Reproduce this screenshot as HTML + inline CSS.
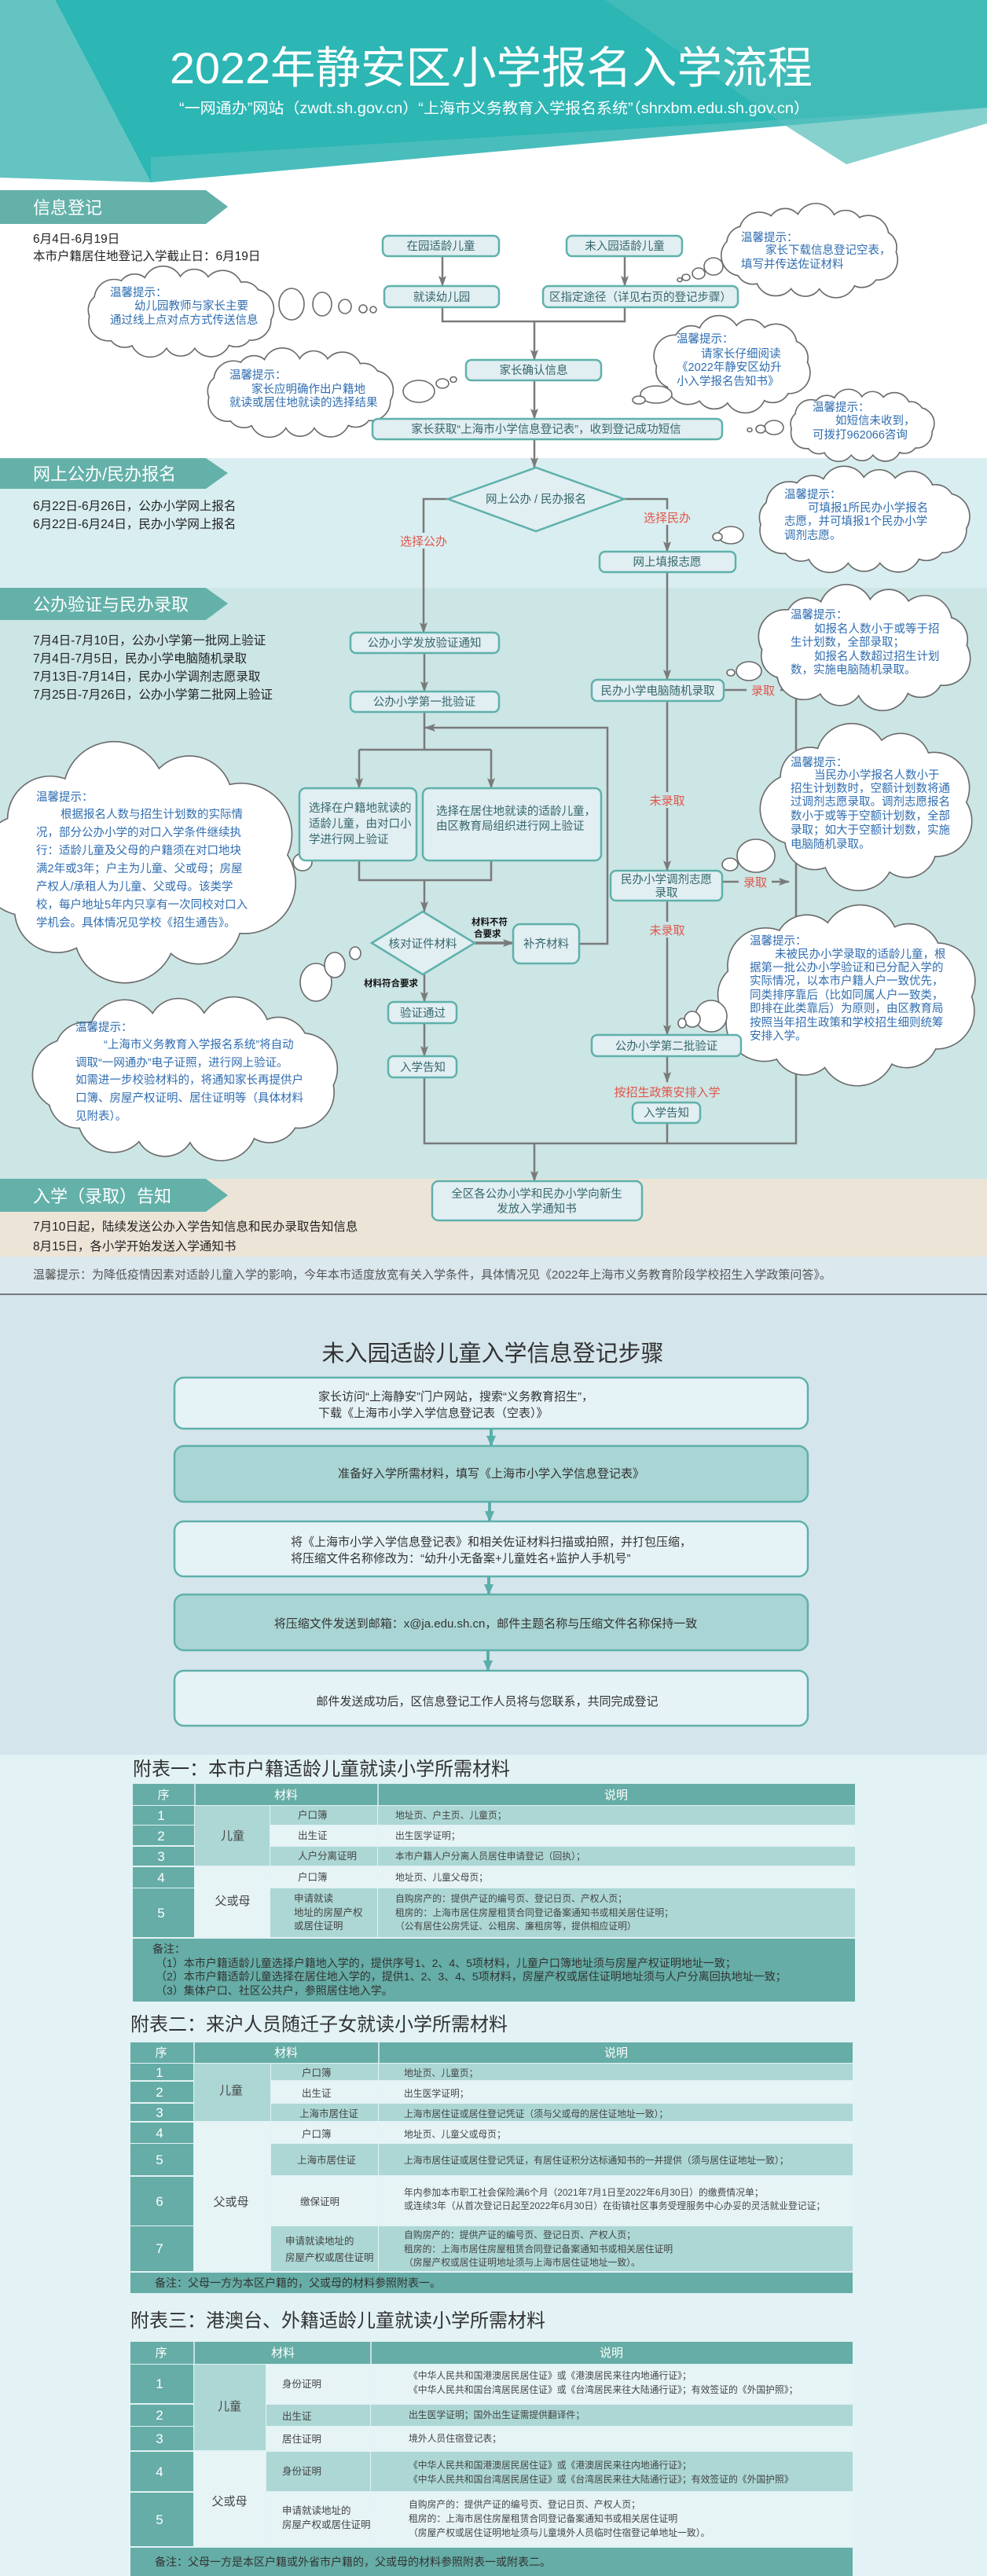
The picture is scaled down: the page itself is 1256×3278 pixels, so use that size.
<!DOCTYPE html>
<html><head><meta charset="utf-8">
<style>
html,body{margin:0;padding:0;background:#fff}
svg{display:block}
text{font-family:"Liberation Sans","Noto Sans CJK SC",sans-serif}
.bx{fill:#e1eef2;stroke:#5fb1ab;stroke-width:2.5}
.bt{font-size:14.5px;fill:#35676b;text-anchor:middle}
.ln{stroke:#7a7a7a;stroke-width:2.5;fill:none}
.rd{fill:#e2554a;font-size:15px;text-anchor:middle}
.ct{fill:#2f6db0;font-size:14.5px}
.dt{fill:#222;font-size:15.5px}
.bn{fill:#fff;font-size:22px}
.sm{fill:#111;font-size:11.5px;font-weight:bold}
.st{fill:#333;font-size:15px}
.tt{fill:#333;font-size:24px}
.th{fill:#fff;font-size:15px;text-anchor:middle}
.tn{fill:#fff;font-size:17px;text-anchor:middle}
.tc{fill:#444;font-size:15px;text-anchor:middle}
.td{fill:#444;font-size:11.8px}
.tm{fill:#444;font-size:12.5px}
.nt{fill:#333;font-size:14px}
.T{fill:#65ada6}.L{fill:#acd7d5}.W{fill:#e6f4f6}
.sb{stroke:#5fb1ab;stroke-width:2.5}
</style></head><body>
<svg id="s" width="1256" height="3278" viewBox="0 0 1256 3278" xmlns="http://www.w3.org/2000/svg">
<defs>
<marker id="a" viewBox="0 0 14 10" markerWidth="14" markerHeight="10" refX="13" refY="5" orient="auto" markerUnits="userSpaceOnUse"><path d="M0,0 L14,5 L0,10 L3,5z" fill="#7a7a7a"/></marker>
<marker id="g" viewBox="0 0 14 12" markerWidth="14" markerHeight="14" refX="13" refY="6" orient="auto" markerUnits="userSpaceOnUse"><path d="M0,0 L14,6 L0,12z" fill="#5aafaa"/></marker>
</defs>
<!-- header -->
<rect x="0" y="0" width="1256" height="583" fill="#fff"/>
<polygon points="70,0 1256,0 1256,137 192,232" fill="#2cb6b4"/>
<polygon points="0,0 70,0 192,232 0,226" fill="#63c4c1"/>
<polygon points="770,0 1256,0 1256,137 1000,160" fill="#40bbb8"/>
<polygon points="192,232 1000,160 1077,209 1256,157 1256,137 192,200" fill="#5ec2bf" opacity="0.6"/>
<polygon points="1000,160 1077,209 1256,157 1256,137" fill="#86d1cd"/>
<text x="216" y="106" font-size="56" fill="#fff" textLength="818" lengthAdjust="spacingAndGlyphs">2022年静安区小学报名入学流程</text>
<text x="228" y="144" font-size="19" fill="#fff" textLength="802" lengthAdjust="spacingAndGlyphs">“一网通办”网站（zwdt.sh.gov.cn）“上海市义务教育入学报名系统”（shrxbm.edu.sh.gov.cn）</text>

<!-- section backgrounds -->
<rect x="0" y="583" width="1256" height="165" fill="#d9eef0"/>
<rect x="0" y="748" width="1256" height="752" fill="#cce5e5"/>
<rect x="0" y="1500" width="1256" height="99" fill="#ece4d7"/>
<rect x="0" y="1599" width="1256" height="48" fill="#dbe8ee"/>
<rect x="0" y="1647" width="1256" height="586" fill="#d5e5ec"/>
<line x1="0" y1="1647" x2="1256" y2="1647" stroke="#555" stroke-width="1.5"/>
<rect x="0" y="2233" width="1256" height="1045" fill="#e2f2f5"/>

<!-- banners -->
<polygon points="0,242 262,242 290,263 262,285 0,285" fill="#64b1aa"/>
<text x="42" y="272" class="bn">信息登记</text>
<polygon points="0,583 262,583 290,602 262,622 0,622" fill="#64b1aa"/>
<text x="42" y="611" class="bn">网上公办/民办报名</text>
<polygon points="0,748 262,748 290,768 262,789 0,789" fill="#64b1aa"/>
<text x="42" y="777" class="bn">公办验证与民办录取</text>
<polygon points="0,1500 262,1500 290,1521 262,1542 0,1542" fill="#64b1aa"/>
<text x="42" y="1530" class="bn">入学（录取）告知</text>

<!-- date texts -->
<text x="42" y="309" class="dt">6月4日-6月19日</text>
<text x="42" y="331" class="dt">本市户籍居住地登记入学截止日：6月19日</text>
<text x="42" y="649" class="dt">6月22日-6月26日，公办小学网上报名</text>
<text x="42" y="672" class="dt">6月22日-6月24日，民办小学网上报名</text>
<text x="42" y="820" class="dt">7月4日-7月10日，公办小学第一批网上验证</text>
<text x="42" y="843" class="dt">7月4日-7月5日，民办小学电脑随机录取</text>
<text x="42" y="866" class="dt">7月13日-7月14日，民办小学调剂志愿录取</text>
<text x="42" y="889" class="dt">7月25日-7月26日，公办小学第二批网上验证</text>
<text x="42" y="1566" class="dt">7月10日起，陆续发送公办入学告知信息和民办录取告知信息</text>
<text x="42" y="1591" class="dt">8月15日，各小学开始发送入学通知书</text>
<text x="42" y="1627" font-size="15" fill="#555">温馨提示：为降低疫情因素对适龄儿童入学的影响，今年本市适度放宽有关入学条件，具体情况见《2022年上海市义务教育阶段学校招生入学政策问答》。</text>

<!-- connectors -->
<g class="ln">
<path d="M563,326 V364" marker-end="url(#a)"/>
<path d="M795,326 V364" marker-end="url(#a)"/>
<path d="M563,391 V409 H795 V391"/>
<path d="M680,409 V458" marker-end="url(#a)"/>
<path d="M680,484 V533" marker-end="url(#a)"/>
<path d="M680,559 V595" marker-end="url(#a)"/>
<path d="M570,635 H539 V805" marker-end="url(#a)"/>
<path d="M794,635 H849 V702" marker-end="url(#a)"/>
<path d="M540,831 V880" marker-end="url(#a)"/>
<path d="M540,906 V954"/>
<path d="M736,1201 H773 V926 H541" marker-end="url(#a)"/>
<path d="M457,954 H625"/>
<path d="M457,954 V1003" marker-end="url(#a)"/>
<path d="M625,954 V1003" marker-end="url(#a)"/>
<path d="M457,1095 V1120 H625 V1095"/>
<path d="M540,1120 V1160" marker-end="url(#a)"/>
<path d="M604,1200 H653" marker-end="url(#a)" stroke-width="3.5"/>
<path d="M540,1240 V1275" marker-end="url(#a)"/>
<path d="M540,1302 V1344" marker-end="url(#a)"/>
<path d="M540,1371 V1455 H1013 V878"/>
<path d="M849,1429 V1455"/>
<path d="M680,1455 V1503" marker-end="url(#a)"/>
<path d="M849,728 V865" marker-end="url(#a)"/>
<path d="M849,892 V1108" marker-end="url(#a)"/>
<path d="M921,878 H950"/>
<path d="M993,878 H1013" marker-end="url(#a)"/>
<path d="M919,1122 H940"/>
<path d="M982,1122 H1004" marker-end="url(#a)"/>
<path d="M849,1146 V1317" marker-end="url(#a)"/>
<path d="M849,1344 V1377" marker-end="url(#a)"/>
</g>

<!-- red labels -->
<rect x="505" y="678" width="68" height="20" fill="#d9eef0"/>
<text x="539" y="694" class="rd">选择公办</text>
<rect x="815" y="648" width="68" height="20" fill="#d9eef0"/>
<text x="849" y="664" class="rd">选择民办</text>
<text x="971" y="884" class="rd">录取</text>
<text x="961" y="1128" class="rd">录取</text>
<rect x="822" y="1008" width="54" height="20" fill="#cce5e5"/>
<text x="849" y="1024" class="rd">未录取</text>
<rect x="822" y="1173" width="54" height="20" fill="#cce5e5"/>
<text x="849" y="1189" class="rd">未录取</text>
<text x="849" y="1395" class="rd">按招生政策安排入学</text>
<text x="600" y="1177" class="sm">材料不符</text>
<text x="603" y="1192" class="sm">合要求</text>
<text x="463" y="1255" class="sm">材料符合要求</text>

<!-- clouds (drawn by script) -->
<g id="cl"></g>

<!-- boxes -->
<rect x="487" y="300" width="148" height="26" rx="7" class="bx"/><text x="561" y="318" class="bt">在园适龄儿童</text>
<rect x="721" y="300" width="147" height="26" rx="7" class="bx"/><text x="795" y="318" class="bt">未入园适龄儿童</text>
<rect x="489" y="364" width="146" height="27" rx="7" class="bx"/><text x="562" y="383" class="bt">就读幼儿园</text>
<rect x="691" y="364" width="248" height="27" rx="7" class="bx"/><text x="815" y="383" class="bt">区指定途径（详见右页的登记步骤）</text>
<rect x="593" y="458" width="172" height="26" rx="7" class="bx"/><text x="679" y="476" class="bt">家长确认信息</text>
<rect x="474" y="533" width="445" height="26" rx="7" class="bx"/><text x="695" y="551" class="bt">家长获取“上海市小学信息登记表”，收到登记成功短信</text>
<polygon points="570,635 682,595 794,635 682,676" fill="#e1eef2" stroke="#5fb1ab" stroke-width="2.5"/>
<text x="682" y="640" class="bt">网上公办 / 民办报名</text>
<rect x="763" y="702" width="173" height="26" rx="7" class="bx"/><text x="849" y="720" class="bt">网上填报志愿</text>
<rect x="446" y="805" width="189" height="26" rx="7" class="bx"/><text x="540" y="823" class="bt">公办小学发放验证通知</text>
<rect x="446" y="880" width="189" height="26" rx="7" class="bx"/><text x="540" y="898" class="bt">公办小学第一批验证</text>
<rect x="381" y="1003" width="149" height="92" rx="8" class="bx"/>
<text x="393" y="1033" class="bt" text-anchor="start" style="text-anchor:start">选择在户籍地就读的</text>
<text x="393" y="1053" class="bt" style="text-anchor:start">适龄儿童，由对口小</text>
<text x="393" y="1073" class="bt" style="text-anchor:start">学进行网上验证</text>
<rect x="538" y="1003" width="227" height="92" rx="8" class="bx"/>
<text x="555" y="1037" class="bt" style="text-anchor:start">选择在居住地就读的适龄儿童，</text>
<text x="555" y="1056" class="bt" style="text-anchor:start">由区教育局组织进行网上验证</text>
<polygon points="473,1200 538,1160 604,1200 538,1240" fill="#e1eef2" stroke="#5fb1ab" stroke-width="2.5"/>
<text x="538" y="1206" class="bt" font-size="15">核对证件材料</text>
<rect x="653" y="1176" width="84" height="50" rx="9" class="bx"/><text x="695" y="1206" class="bt">补齐材料</text>
<rect x="494" y="1275" width="87" height="27" rx="7" class="bx"/><text x="538" y="1294" class="bt">验证通过</text>
<rect x="494" y="1344" width="87" height="27" rx="7" class="bx"/><text x="538" y="1363" class="bt">入学告知</text>
<rect x="753" y="865" width="168" height="27" rx="7" class="bx"/><text x="837" y="884" class="bt">民办小学电脑随机录取</text>
<rect x="777" y="1108" width="142" height="38" rx="7" class="bx"/>
<text x="848" y="1124" class="bt">民办小学调剂志愿</text><text x="848" y="1141" class="bt">录取</text>
<rect x="753" y="1317" width="190" height="27" rx="7" class="bx"/><text x="848" y="1336" class="bt">公办小学第二批验证</text>
<rect x="805" y="1403" width="86" height="26" rx="7" class="bx"/><text x="848" y="1421" class="bt">入学告知</text>
<rect x="550" y="1503" width="267" height="50" rx="8" class="bx"/>
<text x="683" y="1524" class="bt">全区各公办小学和民办小学向新生</text>
<text x="683" y="1543" class="bt">发放入学通知书</text>

<!-- cloud texts -->
<text x="140" y="377" class="ct">温馨提示：</text>
<text x="171" y="394" class="ct">幼儿园教师与家长主要</text>
<text x="140" y="412" class="ct">通过线上点对点方式传送信息</text>
<text x="943" y="307" class="ct">温馨提示：</text>
<text x="974" y="323" class="ct">家长下载信息登记空表，</text>
<text x="943" y="341" class="ct">填写并传送佐证材料</text>
<text x="292" y="482" class="ct">温馨提示：</text>
<text x="320" y="500" class="ct">家长应明确作出户籍地</text>
<text x="292" y="517" class="ct">就读或居住地就读的选择结果</text>
<text x="861" y="436" class="ct">温馨提示：</text>
<text x="892" y="455" class="ct">请家长仔细阅读</text>
<text x="861" y="472" class="ct">《2022年静安区幼升</text>
<text x="861" y="490" class="ct">小入学报名告知书》</text>
<text x="1034" y="523" class="ct">温馨提示：</text>
<text x="1063" y="540" class="ct">如短信未收到，</text>
<text x="1034" y="558" class="ct">可拨打962066咨询</text>
<text x="998" y="634" class="ct">温馨提示：</text>
<text x="1028" y="651" class="ct">可填报1所民办小学报名</text>
<text x="998" y="668" class="ct">志愿，并可填报1个民办小学</text>
<text x="998" y="686" class="ct">调剂志愿。</text>
<text x="1006" y="787" class="ct">温馨提示：</text>
<text x="1036" y="805" class="ct">如报名人数小于或等于招</text>
<text x="1006" y="822" class="ct">生计划数，全部录取；</text>
<text x="1036" y="840" class="ct">如报名人数超过招生计划</text>
<text x="1006" y="857" class="ct">数，实施电脑随机录取。</text>
<text x="1006" y="975" class="ct">温馨提示：</text>
<text x="1036" y="991" class="ct">当民办小学报名人数小于</text>
<text x="1006" y="1008" class="ct">招生计划数时，空额计划数将通</text>
<text x="1006" y="1025" class="ct">过调剂志愿录取。调剂志愿报名</text>
<text x="1006" y="1043" class="ct">数小于或等于空额计划数，全部</text>
<text x="1006" y="1061" class="ct">录取；如大于空额计划数，实施</text>
<text x="1006" y="1079" class="ct">电脑随机录取。</text>
<text x="46" y="1019" class="ct">温馨提示：</text>
<text x="77" y="1041" class="ct" font-size="15.5">根据报名人数与招生计划数的实际情</text>
<text x="46" y="1064" class="ct" font-size="15.5">况，部分公办小学的对口入学条件继续执</text>
<text x="46" y="1087" class="ct" font-size="15.5">行：适龄儿童及父母的户籍须在对口地块</text>
<text x="46" y="1110" class="ct" font-size="15.5">满2年或3年；户主为儿童、父或母；房屋</text>
<text x="46" y="1133" class="ct" font-size="15.5">产权人/承租人为儿童、父或母。该类学</text>
<text x="46" y="1156" class="ct" font-size="15.5">校，每户地址5年内只享有一次同校对口入</text>
<text x="46" y="1179" class="ct" font-size="15.5">学机会。具体情况见学校《招生通告》。</text>
<text x="954" y="1202" class="ct">温馨提示：</text>
<text x="986" y="1219" class="ct">未被民办小学录取的适龄儿童，根</text>
<text x="954" y="1236" class="ct">据第一批公办小学验证和已分配入学的</text>
<text x="954" y="1253" class="ct">实际情况，以本市户籍人户一致优先，</text>
<text x="954" y="1271" class="ct">同类排序靠后（比如同属人户一致类，</text>
<text x="954" y="1288" class="ct">即排在此类靠后）为原则，由区教育局</text>
<text x="954" y="1306" class="ct">按照当年招生政策和学校招生细则统筹</text>
<text x="954" y="1323" class="ct">安排入学。</text>
<text x="96" y="1312" class="ct" font-size="15">温馨提示：</text>
<text x="132" y="1334" class="ct" font-size="15">“上海市义务教育入学报名系统”将自动</text>
<text x="96" y="1357" class="ct" font-size="15">调取“一网通办”电子证照，进行网上验证。</text>
<text x="96" y="1379" class="ct" font-size="15">如需进一步校验材料的，将通知家长再提供户</text>
<text x="96" y="1402" class="ct" font-size="15">口簿、房屋产权证明、居住证明等（具体材料</text>
<text x="96" y="1425" class="ct" font-size="15">见附表）。</text>

<!-- steps page -->
<text x="627" y="1732" font-size="29" fill="#333" text-anchor="middle">未入园适龄儿童入学信息登记步骤</text>
<rect x="222" y="1753" width="806" height="65" rx="12" fill="#e6f3f6" class="sb"/>
<text x="405" y="1782" class="st">家长访问“上海静安”门户网站，搜索“义务教育招生”，</text>
<text x="405" y="1803" class="st">下载《上海市小学入学信息登记表（空表）》</text>
<rect x="222" y="1840" width="806" height="71" rx="12" fill="#a9d5d4" class="sb"/>
<text x="625" y="1880" class="st" text-anchor="middle">准备好入学所需材料，填写《上海市小学入学信息登记表》</text>
<rect x="222" y="1936" width="806" height="70" rx="12" fill="#e6f3f6" class="sb"/>
<text x="370" y="1967" class="st">将《上海市小学入学信息登记表》和相关佐证材料扫描或拍照，并打包压缩，</text>
<text x="370" y="1988" class="st">将压缩文件名称修改为：“幼升小无备案+儿童姓名+监护人手机号”</text>
<rect x="222" y="2029" width="806" height="71" rx="12" fill="#a9d5d4" class="sb"/>
<text x="618" y="2071" class="st" text-anchor="middle">将压缩文件发送到邮箱：x@ja.edu.sh.cn，邮件主题名称与压缩文件名称保持一致</text>
<rect x="222" y="2126" width="806" height="70" rx="12" fill="#e6f3f6" class="sb"/>
<text x="620" y="2170" class="st" text-anchor="middle">邮件发送成功后，区信息登记工作人员将与您联系，共同完成登记</text>
<g stroke="#5aafaa" stroke-width="4">
<path d="M625,1819 V1840" marker-end="url(#g)"/>
<path d="M623,1912 V1936" marker-end="url(#g)"/>
<path d="M622,2007 V2029" marker-end="url(#g)"/>
<path d="M621,2101 V2126" marker-end="url(#g)"/>
</g>

<!-- Table 1 -->
<text x="169" y="2259" class="tt">附表一：本市户籍适龄儿童就读小学所需材料</text>
<rect x="169" y="2270" width="919" height="27" class="T"/>
<line x1="248" y1="2270" x2="248" y2="2297" stroke="#e2f2f5" stroke-width="1.5"/>
<line x1="481" y1="2270" x2="481" y2="2297" stroke="#e2f2f5" stroke-width="1.5"/>
<text x="208" y="2289" class="th">序</text><text x="364" y="2289" class="th">材料</text><text x="784" y="2289" class="th">说明</text>
<rect x="169" y="2298" width="78" height="24" class="T"/>
<rect x="169" y="2323" width="78" height="25" class="T"/>
<rect x="169" y="2350" width="78" height="24" class="T"/>
<rect x="169" y="2376" width="78" height="26" class="T"/>
<rect x="169" y="2403" width="78" height="62" class="T"/>
<rect x="248" y="2298" width="95" height="76" class="L"/>
<rect x="248" y="2376" width="95" height="89" class="W"/>
<rect x="344" y="2298" width="136" height="24" class="L"/><rect x="481" y="2298" width="607" height="24" class="L"/>
<rect x="344" y="2323" width="136" height="25" class="W"/><rect x="481" y="2323" width="607" height="25" class="W"/>
<rect x="344" y="2350" width="136" height="24" class="L"/><rect x="481" y="2350" width="607" height="24" class="L"/>
<rect x="344" y="2376" width="136" height="26" class="W"/><rect x="481" y="2376" width="607" height="26" class="W"/>
<rect x="344" y="2403" width="136" height="62" class="L"/><rect x="481" y="2403" width="607" height="62" class="L"/>
<text x="205" y="2316" class="tn">1</text><text x="205" y="2342" class="tn">2</text><text x="205" y="2368" class="tn">3</text><text x="205" y="2395" class="tn">4</text><text x="205" y="2440" class="tn">5</text>
<text x="296" y="2341" class="tc">儿童</text><text x="296" y="2424" class="tc">父或母</text>
<text x="379" y="2314" class="tm">户口簿</text><text x="503" y="2314" class="td">地址页、户主页、儿童页；</text>
<text x="379" y="2340" class="tm">出生证</text><text x="503" y="2340" class="td">出生医学证明；</text>
<text x="379" y="2366" class="tm">人户分离证明</text><text x="503" y="2366" class="td">本市户籍人户分离人员居住申请登记（回执）；</text>
<text x="379" y="2393" class="tm">户口簿</text><text x="503" y="2393" class="td">地址页、儿童父母页；</text>
<text x="374" y="2420" class="tm">申请就读</text><text x="374" y="2438" class="tm">地址的房屋产权</text><text x="374" y="2455" class="tm">或居住证明</text>
<text x="503" y="2420" class="td">自购房产的：提供产证的编号页、登记日页、产权人页；</text>
<text x="503" y="2438" class="td">租房的：上海市居住房屋租赁合同登记备案通知书或相关居住证明；</text>
<text x="503" y="2455" class="td">（公有居住公房凭证、公租房、廉租房等，提供相应证明）</text>
<rect x="169" y="2467" width="919" height="80" class="T"/>
<text x="194" y="2485" class="nt">备注：</text>
<text x="198" y="2503" class="nt">（1）本市户籍适龄儿童选择户籍地入学的，提供序号1、2、4、5项材料，儿童户口簿地址须与房屋产权证明地址一致；</text>
<text x="198" y="2520" class="nt">（2）本市户籍适龄儿童选择在居住地入学的，提供1、2、3、4、5项材料，房屋产权或居住证明地址须与人户分离回执地址一致；</text>
<text x="198" y="2538" class="nt">（3）集体户口、社区公共户，参照居住地入学。</text>

<!-- Table 2 -->
<text x="166" y="2584" class="tt">附表二：来沪人员随迁子女就读小学所需材料</text>
<rect x="166" y="2599" width="919" height="26" class="T"/>
<line x1="247" y1="2599" x2="247" y2="2625" stroke="#e2f2f5" stroke-width="1.5"/>
<line x1="482" y1="2599" x2="482" y2="2625" stroke="#e2f2f5" stroke-width="1.5"/>
<text x="205" y="2617" class="th">序</text><text x="364" y="2617" class="th">材料</text><text x="784" y="2617" class="th">说明</text>
<rect x="166" y="2626" width="80" height="21" class="T"/>
<rect x="166" y="2649" width="80" height="26" class="T"/>
<rect x="166" y="2677" width="80" height="22" class="T"/>
<rect x="166" y="2701" width="80" height="26" class="T"/>
<rect x="166" y="2728" width="80" height="40" class="T"/>
<rect x="166" y="2770" width="80" height="62" class="T"/>
<rect x="166" y="2833" width="80" height="57" class="T"/>
<rect x="247" y="2626" width="97" height="73" class="L"/>
<rect x="247" y="2701" width="97" height="189" class="W"/>
<rect x="345" y="2626" width="136" height="21" class="L"/><rect x="482" y="2626" width="603" height="21" class="L"/>
<rect x="345" y="2649" width="136" height="26" class="W"/><rect x="482" y="2649" width="603" height="26" class="W"/>
<rect x="345" y="2677" width="136" height="22" class="L"/><rect x="482" y="2677" width="603" height="22" class="L"/>
<rect x="345" y="2701" width="136" height="26" class="W"/><rect x="482" y="2701" width="603" height="26" class="W"/>
<rect x="345" y="2728" width="136" height="40" class="L"/><rect x="482" y="2728" width="603" height="40" class="L"/>
<rect x="345" y="2770" width="136" height="62" class="W"/><rect x="482" y="2770" width="603" height="62" class="W"/>
<rect x="345" y="2833" width="136" height="57" class="L"/><rect x="482" y="2833" width="603" height="57" class="L"/>
<text x="203" y="2643" class="tn">1</text><text x="203" y="2668" class="tn">2</text><text x="203" y="2694" class="tn">3</text><text x="203" y="2720" class="tn">4</text><text x="203" y="2754" class="tn">5</text><text x="203" y="2807" class="tn">6</text><text x="203" y="2867" class="tn">7</text>
<text x="294" y="2665" class="tc">儿童</text><text x="294" y="2807" class="tc">父或母</text>
<text x="384" y="2642" class="tm">户口簿</text><text x="514" y="2642" class="td">地址页、儿童页；</text>
<text x="384" y="2668" class="tm">出生证</text><text x="514" y="2668" class="td">出生医学证明；</text>
<text x="381" y="2694" class="tm">上海市居住证</text><text x="514" y="2694" class="td">上海市居住证或居住登记凭证（须与父或母的居住证地址一致）；</text>
<text x="384" y="2720" class="tm">户口簿</text><text x="514" y="2720" class="td">地址页、儿童父或母页；</text>
<text x="378" y="2753" class="tm">上海市居住证</text><text x="514" y="2753" class="td">上海市居住证或居住登记凭证，有居住证积分达标通知书的一并提供（须与居住证地址一致）；</text>
<text x="382" y="2806" class="tm">缴保证明</text>
<text x="514" y="2794" class="td">年内参加本市职工社会保险满6个月（2021年7月1日至2022年6月30日）的缴费情况单；</text>
<text x="514" y="2811" class="td">或连续3年（从首次登记日起至2022年6月30日）在街镇社区事务受理服务中心办妥的灵活就业登记证；</text>
<text x="363" y="2856" class="tm">申请就读地址的</text><text x="363" y="2877" class="tm">房屋产权或居住证明</text>
<text x="514" y="2848" class="td">自购房产的：提供产证的编号页、登记日页、产权人页；</text>
<text x="514" y="2866" class="td">租房的：上海市居住房屋租赁合同登记备案通知书或相关居住证明</text>
<text x="514" y="2883" class="td">（房屋产权或居住证明地址须与上海市居住证地址一致）。</text>
<rect x="166" y="2892" width="919" height="26" class="T"/>
<text x="197" y="2910" class="nt">备注：父母一方为本区户籍的，父或母的材料参照附表一。</text>

<!-- Table 3 -->
<text x="166" y="2961" class="tt">附表三：港澳台、外籍适龄儿童就读小学所需材料</text>
<rect x="166" y="2980" width="919" height="28" class="T"/>
<line x1="247" y1="2980" x2="247" y2="3008" stroke="#e2f2f5" stroke-width="1.5"/>
<line x1="472" y1="2980" x2="472" y2="3008" stroke="#e2f2f5" stroke-width="1.5"/>
<text x="205" y="2999" class="th">序</text><text x="360" y="2999" class="th">材料</text><text x="778" y="2999" class="th">说明</text>
<rect x="166" y="3009" width="80" height="49" class="T"/>
<rect x="166" y="3060" width="80" height="27" class="T"/>
<rect x="166" y="3088" width="80" height="30" class="T"/>
<rect x="166" y="3120" width="80" height="50" class="T"/>
<rect x="166" y="3172" width="80" height="68" class="T"/>
<rect x="247" y="3009" width="91" height="109" class="L"/>
<rect x="247" y="3120" width="91" height="120" class="W"/>
<rect x="339" y="3009" width="132" height="49" class="W"/><rect x="472" y="3009" width="613" height="49" class="W"/>
<rect x="339" y="3060" width="132" height="27" class="L"/><rect x="472" y="3060" width="613" height="27" class="L"/>
<rect x="339" y="3088" width="132" height="30" class="W"/><rect x="472" y="3088" width="613" height="30" class="W"/>
<rect x="339" y="3120" width="132" height="50" class="L"/><rect x="472" y="3120" width="613" height="50" class="L"/>
<rect x="339" y="3172" width="132" height="68" class="W"/><rect x="472" y="3172" width="613" height="68" class="W"/>
<text x="203" y="3039" class="tn">1</text><text x="203" y="3079" class="tn">2</text><text x="203" y="3109" class="tn">3</text><text x="203" y="3151" class="tn">4</text><text x="203" y="3212" class="tn">5</text>
<text x="292" y="3067" class="tc">儿童</text><text x="292" y="3188" class="tc">父或母</text>
<text x="359" y="3038" class="tm">身份证明</text>
<text x="520" y="3027" class="td">《中华人民共和国港澳居民居住证》或《港澳居民来往内地通行证》；</text>
<text x="520" y="3045" class="td">《中华人民共和国台湾居民居住证》或《台湾居民来往大陆通行证》；有效签证的《外国护照》；</text>
<text x="359" y="3079" class="tm">出生证</text><text x="520" y="3077" class="td">出生医学证明；国外出生证需提供翻译件；</text>
<text x="359" y="3108" class="tm">居住证明</text><text x="520" y="3107" class="td">境外人员住宿登记表；</text>
<text x="359" y="3149" class="tm">身份证明</text>
<text x="520" y="3141" class="td">《中华人民共和国港澳居民居住证》或《港澳居民来往内地通行证》；</text>
<text x="520" y="3159" class="td">《中华人民共和国台湾居民居住证》或《台湾居民来往大陆通行证》；有效签证的《外国护照》</text>
<text x="359" y="3199" class="tm">申请就读地址的</text><text x="359" y="3217" class="tm">房屋产权或居住证明</text>
<text x="520" y="3191" class="td">自购房产的：提供产证的编号页、登记日页、产权人页；</text>
<text x="520" y="3209" class="td">租房的：上海市居住房屋租赁合同登记备案通知书或相关居住证明</text>
<text x="520" y="3227" class="td">（房屋产权或居住证明地址须与儿童境外人员临时住宿登记单地址一致）。</text>
<rect x="166" y="3242" width="919" height="36" class="T"/>
<text x="197" y="3265" class="nt">备注：父母一方是本区户籍或外省市户籍的，父或母的材料参照附表一或附表二。</text>
</svg>
<script>
(function(){
var NS="http://www.w3.org/2000/svg",g=document.getElementById("cl");
function el(t,a){var e=document.createElementNS(NS,t);for(var k in a)e.setAttribute(k,a[k]);g.appendChild(e);return e;}
var clouds=[[112,342,233,111],[921,263,221,114],[264,446,233,109],[833,405,197,117],[1006,498,180,88],
[966,597,264,130],[966,748,268,152],[974,926,260,201],[-20,951,393,291],[913,1158,325,217],[48,1270,377,203]];
var bub=[[371,387,16,20],[410,387,12,15],[439,390,8,9],[462,393,5,5],[475,394,4,4],
[908,339,12,11],[889,348,8,7],[873,353,5,4],[865,356,3,2.5],
[533,498,20,14],[563,488,8,6],[577,483,4,3.5],
[835,502,20,11],[813,509,8,5],
[985,544,12,9],[968,546,6,5],[954,547,3,2.5],
[930,681,16,11],[913,683,6,5],
[953,854,16,12],[930,856,5,4],
[962,1089,24,21],[929,1100,10,8],
[385,1097,12,11],
[402,1250,20,24],[426,1228,13,16],[452,1213,7,8],
[905,1293,20,20],[881,1297,10,10],[868,1302,5,6]];
var all=[];
clouds.forEach(function(c){
 var x=c[0],y=c[1],w=c[2],h=c[3],cx=x+w/2,cy=y+h/2,r=Math.min(w,h)*0.2;
 var ex=w/2-r*0.95,ey=h/2-r*0.95;
 var per=2*Math.PI*Math.sqrt((ex*ex+ey*ey)/2),n=Math.max(8,Math.round(per/(r*1.35)));
 var cs=[];
 for(var i=0;i<n;i++){var t=2*Math.PI*i/n+0.3;var rr=r*(i%2?0.92:1.1);cs.push([cx+ex*Math.cos(t),cy+ey*Math.sin(t),rr]);}
 all.push({cs:cs,cx:cx,cy:cy,ex:ex,ey:ey});
});
all.forEach(function(o){o.cs.forEach(function(c){el("circle",{cx:c[0],cy:c[1],r:c[2],fill:"#fff",stroke:"#6a6a6a","stroke-width":3.2});});});
all.forEach(function(o){o.cs.forEach(function(c){el("circle",{cx:c[0],cy:c[1],r:c[2],fill:"#fff"});});el("ellipse",{cx:o.cx,cy:o.cy,rx:o.ex+2,ry:o.ey+2,fill:"#fff"});});
bub.forEach(function(b){el("ellipse",{cx:b[0],cy:b[1],rx:b[2],ry:b[3],fill:"#fff",stroke:"#6a6a6a","stroke-width":1.6});});
})();
</script>
</body></html>
